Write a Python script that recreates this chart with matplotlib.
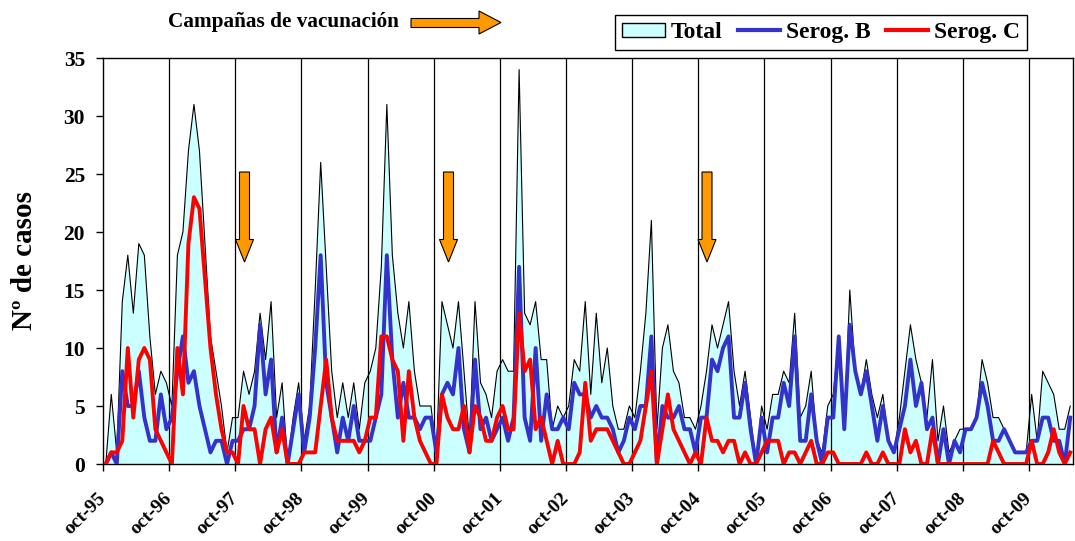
import numpy as np
import matplotlib
matplotlib.use("Agg")
import matplotlib.pyplot as plt
from matplotlib.patches import Polygon, Patch
from matplotlib.lines import Line2D
from matplotlib.transforms import IdentityTransform, ScaledTranslation

# ---------------- data (monthly cases, oct-95 .. may-10) ----------------
total = [
    0, 6, 1, 14, 18, 13, 19, 18, 11, 6, 8, 7,
    5, 18, 20, 27, 31, 27, 19, 11, 8, 5, 1, 4,
    4, 8, 6, 8, 13, 9, 14, 4, 7, 0, 4, 7,
    2, 5, 15, 26, 17, 8, 4, 7, 4, 7, 3, 7,
    8, 10, 17, 31, 18, 13, 10, 14, 8, 5, 5, 5,
    1, 14, 12, 10, 14, 8, 2, 14, 7, 6, 4, 8,
    9, 8, 8, 34, 13, 12, 14, 9, 9, 3, 5, 4,
    5, 9, 8, 14, 6, 13, 7, 10, 5, 3, 3, 5,
    4, 8, 13, 21, 3, 10, 12, 8, 7, 4, 4, 3,
    5, 8, 12, 10, 12, 14, 8, 5, 8, 4, 0, 5,
    3, 6, 6, 8, 7, 13, 4, 5, 8, 2, 1, 5,
    6, 11, 3, 15, 8, 6, 9, 6, 4, 6, 2, 1,
    4, 8, 12, 9, 7, 4, 9, 2, 5, 1, 2, 3,
    3, 3, 4, 9, 7, 4, 4, 3, 2, 1, 1, 1,
    6, 2, 8, 7, 6, 3, 3, 5,
]
serog_b = [
    0, 1, 0, 8, 5, 5, 8, 4, 2, 2, 6, 3,
    4, 8, 11, 7, 8, 5, 3, 1, 2, 2, 0, 2,
    2, 3, 3, 5, 12, 6, 9, 1, 4, 0, 3, 6,
    1, 4, 10, 18, 7, 4, 1, 4, 2, 5, 2, 2,
    2, 4, 6, 18, 9, 4, 7, 4, 4, 3, 4, 4,
    1, 6, 7, 6, 10, 3, 1, 9, 3, 4, 2, 3,
    4, 2, 4, 17, 4, 2, 10, 2, 6, 3, 3, 4,
    3, 7, 6, 6, 4, 5, 4, 4, 3, 1, 2, 4,
    3, 5, 5, 11, 0, 5, 4, 4, 5, 3, 3, 1,
    4, 4, 9, 8, 10, 11, 4, 4, 7, 3, 0, 4,
    1, 4, 4, 7, 5, 11, 2, 2, 6, 2, 0, 4,
    4, 11, 3, 12, 8, 6, 8, 5, 2, 5, 2, 1,
    3, 5, 9, 5, 7, 3, 4, 0, 3, 0, 2, 1,
    3, 3, 4, 7, 5, 2, 2, 3, 2, 1, 1, 1,
    2, 2, 4, 4, 2, 2, 0, 4,
]
serog_c = [
    0, 1, 1, 2, 10, 4, 9, 10, 9, 3, 2, 1,
    0, 10, 6, 19, 23, 22, 16, 10, 6, 3, 1, 1,
    0, 5, 3, 3, 0, 3, 4, 1, 3, 0, 0, 0,
    1, 1, 1, 5, 9, 4, 2, 2, 2, 2, 1, 2,
    4, 4, 11, 11, 9, 8, 2, 8, 4, 2, 1, 0,
    0, 6, 4, 3, 3, 5, 1, 5, 4, 2, 2, 4,
    5, 3, 3, 13, 8, 9, 3, 4, 2, 0, 2, 0,
    0, 0, 1, 7, 2, 3, 3, 3, 2, 1, 0, 0,
    1, 2, 5, 8, 0, 3, 6, 3, 2, 1, 0, 1,
    0, 4, 2, 2, 1, 2, 2, 0, 1, 0, 0, 1,
    2, 2, 2, 0, 1, 1, 0, 1, 2, 0, 0, 1,
    1, 0, 0, 0, 0, 0, 1, 0, 0, 1, 0, 0,
    0, 3, 1, 2, 0, 0, 3, 0, 0, 0, 0, 0,
    0, 0, 0, 0, 0, 2, 1, 0, 0, 0, 0, 0,
    2, 0, 0, 1, 3, 1, 0, 1,
]
tick_labels = ["oct-95", "oct-96", "oct-97", "oct-98", "oct-99", "oct-00", "oct-01",
               "oct-02", "oct-03", "oct-04", "oct-05", "oct-06", "oct-07", "oct-08", "oct-09"]
legend_labels = ["Total", "Serog. B", "Serog. C"]

# ---------------- style ----------------
plt.rcParams['font.family'] = ['Liberation Serif', 'DejaVu Serif']
plt.rcParams['font.weight'] = 'bold'

W, H = 1075, 541
fig = plt.figure(figsize=(W / 100, H / 100), dpi=100)
fig.patch.set_facecolor('white')

L, R, T, B = 103, 1073, 58, 464
ax = fig.add_axes([L / W, (H - B) / H, (R - L) / W, (B - T) / H])

n = len(total)
x = np.arange(n) + 0.5          # categories centred between tick marks
ax.fill_between(x, total, 0, facecolor='#CCFFFF', edgecolor='none', zorder=1)
ax.plot(x, total, color='black', lw=0.8, zorder=3)
ax.plot(x, serog_b, color='#3333CC', lw=2.8, solid_joinstyle='round', zorder=4)
ax.plot(x, serog_c, color='#FF0000', lw=2.8, solid_joinstyle='round', zorder=5)

tick_pos = np.arange(len(tick_labels)) * 12
for p in tick_pos[1:]:
    ax.axvline(p, color='black', lw=0.9, zorder=2)

ax.set_xlim(0, n)
ax.set_ylim(0, 35)
ax.set_yticks(np.arange(0, 36, 5))
ax.set_xticks(tick_pos)
ax.set_xticklabels(tick_labels, rotation=45, ha='right', va='center',
                   rotation_mode='anchor', fontsize=14, fontweight='bold')
shift = ScaledTranslation(-3 / 100, 2 / 100, fig.dpi_scale_trans)
for lab in ax.get_xticklabels():
    lab.set_transform(lab.get_transform() + shift)
ax.tick_params(axis='x', direction='out', length=5, width=1, pad=18)
ax.tick_params(axis='y', direction='out', length=5, width=1, pad=8, labelsize=15.5)
for lab in ax.get_yticklabels():
    lab.set_fontweight('bold')
for s in ax.spines.values():
    s.set_color('black')
    s.set_linewidth(1.0)

fig.text(25 / W, 1 - 260 / H, "Nº de casos", rotation=90, ha='center', va='center',
         fontsize=21, fontweight='bold')

fig.text(168 / W, 1 - 22 / H, "Campañas de vacunación", ha='left', va='center',
         fontsize=15.3, fontweight='bold')

# ---------- orange arrows (pixel coordinates, y measured from top) ----------
def px_poly(pts, **kw):
    verts = [(px, H - py) for px, py in pts]
    fig.patches.append(Polygon(verts, closed=True, transform=IdentityTransform(),
                               figure=fig, **kw))

orange = '#FF9900'
# horizontal arrow next to the title
px_poly([(411, 18.5), (479, 18.5), (479, 11), (501, 22.5), (479, 34), (479, 27.5), (411, 27.5)],
        facecolor=orange, edgecolor='black', lw=0.8)
# downward arrows marking vaccination campaigns
for cx in (244.5, 448.5, 707.0):
    px_poly([(cx - 5, 172), (cx + 5, 172), (cx + 5, 239.5), (cx + 9, 239.5), (cx, 262),
             (cx - 9, 239.5), (cx - 5, 239.5)],
            facecolor=orange, edgecolor='black', lw=0.8)

# ---------------- legend ----------------
handles = [Patch(facecolor='#CCFFFF', edgecolor='black', lw=1),
           Line2D([], [], color='#3333CC', lw=3),
           Line2D([], [], color='#FF0000', lw=3)]
leg = fig.legend(handles, legend_labels, loc='upper left',
                 bbox_to_anchor=(615 / W, 1 - 15 / H), ncol=3, frameon=True,
                 fancybox=False, edgecolor='black', framealpha=1,
                 prop={'family': 'Liberation Serif', 'weight': 'bold', 'size': 17},
                 handlelength=1.8, handleheight=0.55, handletextpad=0.25,
                 columnspacing=0.65, borderpad=0.3, borderaxespad=0)
leg.get_frame().set_linewidth(1.0)

fig.savefig('out.png', dpi=100)
